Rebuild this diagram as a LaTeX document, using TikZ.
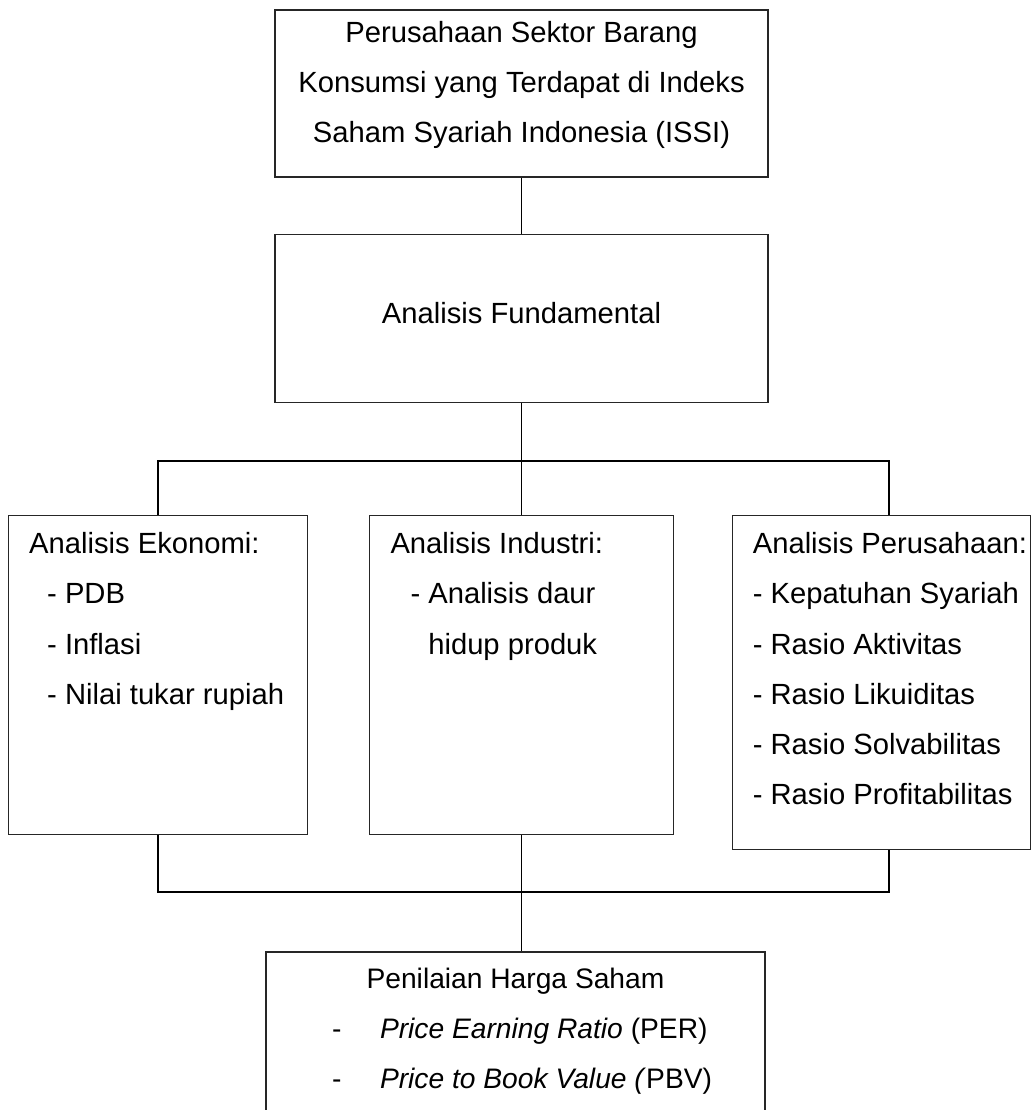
\documentclass[tikz,border=0pt]{standalone}
\usepackage{fontspec}
\setmainfont{Liberation Sans}
\usetikzlibrary{positioning}
\newcommand{\boxtext}[4]{\begin{minipage}[t][#1][t]{#2}\raggedright\rule{0pt}{#3}#4\end{minipage}}
\tikzset{
  box/.style={draw=black!85, line width=0.65pt, inner sep=0pt, font=\fontsize{14.6pt}{25.1pt}\selectfont},
  link/.style={draw=black, line width=0.95pt}
}

\begin{document}
\begin{tikzpicture}
\useasboundingbox (0,0) rectangle (516.5pt,-555pt);
\clip (0,0) rectangle (516.5pt,-555pt);
\node[box] (isi) at (260.75pt,-46.75pt) {\boxtext{83.5pt}{246.5pt}{16.2pt}{\centering Perusahaan Sektor Barang\\ Konsumsi yang Terdapat di Indeks\\ Saham Syariah Indonesia (ISSI)}};
\node[box, below=28pt of isi] (fund) {\boxtext{84pt}{246.5pt}{44.5pt}{\centering Analisis Fundamental}};
\node[box, below=56pt of fund] (ind) {\boxtext{159.5pt}{152pt}{19pt}{\hspace*{10.5pt}Analisis Industri:\\ \hspace*{20.5pt}- Analisis daur\\ \hspace*{29.4pt}hidup produk}};
\node[box, left=30.5pt of ind] (eko) {\boxtext{159.5pt}{149.5pt}{19pt}{\hspace*{10.5pt}Analisis Ekonomi:\\ \hspace*{19.5pt}- PDB\\ \hspace*{19.5pt}- Inflasi\\ \hspace*{19.5pt}- Nilai tukar rupiah}};
\node[box, right=29pt of ind.north east, anchor=north west] (per) {\boxtext{167pt}{149pt}{19pt}{\hspace*{10pt}Analisis Perusahaan:\\ \hspace*{10pt}- Kepatuhan Syariah\\ \hspace*{10pt}- Rasio Aktivitas\\ \hspace*{10pt}- Rasio Likuiditas\\ \hspace*{10pt}- Rasio Solvabilitas\\ \hspace*{10pt}- Rasio Profitabilitas}};
\node[box, below=58pt of ind, xshift=-3pt, font=\fontsize{14.1pt}{25pt}\selectfont] (pen) {\boxtext{91pt}{249.5pt}{18.5pt}{\makebox[\linewidth]{Penilaian Harga Saham}\\ \hspace*{33pt}\makebox[24pt][l]{-}\textit{Price Earning Ratio} (PER)\\ \hspace*{33pt}\makebox[24pt][l]{-}\textit{Price to Book Value (}PBV)}};
\coordinate[below=29pt of fund.south] (split);
\coordinate[below=28.5pt of ind.south] (merge);
\draw[link] (isi) -- (fund);
\draw[link] (fund) -- (split);
\draw[link] (eko) |- (split) -| ([xshift=3.75pt]per.north);
\draw[link] (split) -- (ind);
\draw[link] (eko) |- (merge) -| ([xshift=3.75pt]per.south);
\draw[link] (ind) -- (merge) -- (merge |- pen.north);
\end{tikzpicture}
\end{document}
